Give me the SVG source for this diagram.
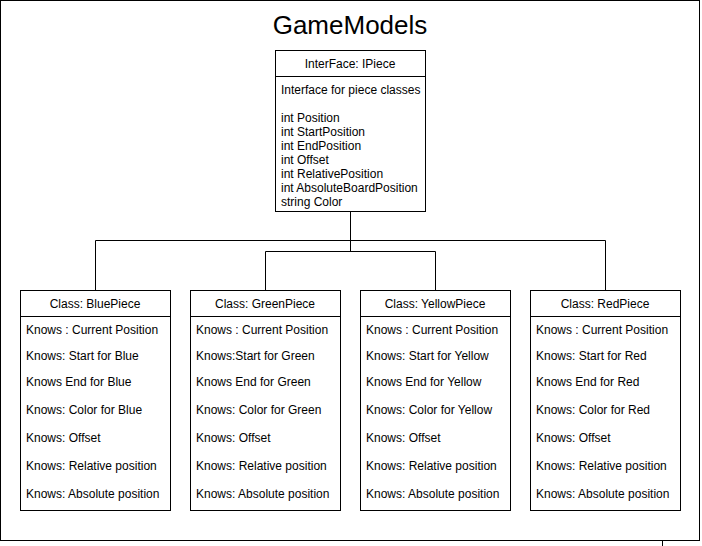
<svg xmlns="http://www.w3.org/2000/svg" width="702" height="546" viewBox="0 0 702 546">
<style>
.box{fill:#fff;stroke:#000;stroke-width:1}
.ln{fill:none;stroke:#000;stroke-width:1}
text{font-family:"Liberation Sans",Arial,sans-serif;font-size:12px;fill:#000}
.c{text-anchor:middle}
.title{font-size:26px}
</style>
<rect x="0.5" y="0.5" width="699" height="540" fill="#fff" stroke="#000"/>
<line class="ln" x1="662.5" y1="540" x2="662.5" y2="546"/>
<text class="title c" x="350" y="34">GameModels</text>
<g id="connectors">
<path class="ln" d="M350.5 211V251.5M95.5 290V240.5H605.5V290M265.5 290V251.5H435.5V290"/>
</g>
<g id="IPiece">
<rect class="box" x="275.5" y="50.5" width="150" height="161"/>
<line class="ln" x1="275.5" y1="76.5" x2="425.5" y2="76.5"/>
<text class="c" x="350" y="68">InterFace: IPiece</text>
<text x="281" y="94">Interface for piece classes</text>
<text x="281" y="122">int Position</text>
<text x="281" y="136">int StartPosition</text>
<text x="281" y="150">int EndPosition</text>
<text x="281" y="164">int Offset</text>
<text x="281" y="178">int RelativePosition</text>
<text x="281" y="192">int AbsoluteBoardPosition</text>
<text x="281" y="206">string Color</text>
</g>
<g id="BluePiece">
<rect class="box" x="20.5" y="290.5" width="150" height="220"/>
<line class="ln" x1="20.5" y1="316.5" x2="170.5" y2="316.5"/>
<text class="c" x="95" y="308">Class: BluePiece</text>
<text x="26" y="334">Knows : Current Position</text>
<text x="26" y="360">Knows: Start for Blue</text>
<text x="26" y="386">Knows End for Blue</text>
<text x="26" y="414">Knows: Color for Blue</text>
<text x="26" y="442">Knows: Offset</text>
<text x="26" y="470">Knows: Relative position</text>
<text x="26" y="498">Knows: Absolute position</text>
</g>
<g id="GreenPiece">
<rect class="box" x="190.5" y="290.5" width="150" height="220"/>
<line class="ln" x1="190.5" y1="316.5" x2="340.5" y2="316.5"/>
<text class="c" x="265" y="308">Class: GreenPiece</text>
<text x="196" y="334">Knows : Current Position</text>
<text x="196" y="360">Knows:Start for Green</text>
<text x="196" y="386">Knows End for Green</text>
<text x="196" y="414">Knows: Color for Green</text>
<text x="196" y="442">Knows: Offset</text>
<text x="196" y="470">Knows: Relative position</text>
<text x="196" y="498">Knows: Absolute position</text>
</g>
<g id="YellowPiece">
<rect class="box" x="360.5" y="290.5" width="150" height="220"/>
<line class="ln" x1="360.5" y1="316.5" x2="510.5" y2="316.5"/>
<text class="c" x="435" y="308">Class: YellowPiece</text>
<text x="366" y="334">Knows : Current Position</text>
<text x="366" y="360">Knows: Start for Yellow</text>
<text x="366" y="386">Knows End for Yellow</text>
<text x="366" y="414">Knows: Color for Yellow</text>
<text x="366" y="442">Knows: Offset</text>
<text x="366" y="470">Knows: Relative position</text>
<text x="366" y="498">Knows: Absolute position</text>
</g>
<g id="RedPiece">
<rect class="box" x="530.5" y="290.5" width="150" height="220"/>
<line class="ln" x1="530.5" y1="316.5" x2="680.5" y2="316.5"/>
<text class="c" x="605" y="308">Class: RedPiece</text>
<text x="536" y="334">Knows : Current Position</text>
<text x="536" y="360">Knows: Start for Red</text>
<text x="536" y="386">Knows End for Red</text>
<text x="536" y="414">Knows: Color for Red</text>
<text x="536" y="442">Knows: Offset</text>
<text x="536" y="470">Knows: Relative position</text>
<text x="536" y="498">Knows: Absolute position</text>
</g>
</svg>
